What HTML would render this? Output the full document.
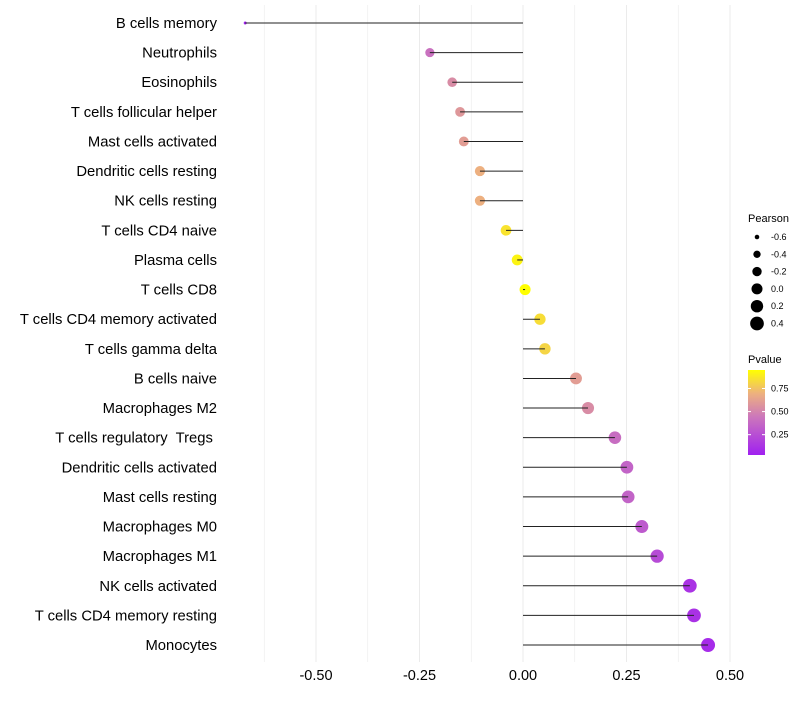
<!DOCTYPE html>
<html><head><meta charset="utf-8"><style>
body{margin:0;background:#fff;font-family:"Liberation Sans",sans-serif}
</style></head><body>
<svg id="chart" width="800" height="700" xmlns="http://www.w3.org/2000/svg">
<defs><linearGradient id="pg" x1="0" y1="1" x2="0" y2="0">
<stop offset="0" stop-color="#A020F0"/><stop offset="0.45" stop-color="#CC77BB"/><stop offset="0.72" stop-color="#EDB080"/><stop offset="1" stop-color="#FFFF00"/></linearGradient></defs>
<g id="grid"></g><g id="marks"></g><g id="stems"></g><g id="ylabels"></g><g id="xlabels"></g><g id="legend"></g>
</svg>
<script>
const categories=["B cells memory","Neutrophils","Eosinophils","T cells follicular helper","Mast cells activated","Dendritic cells resting","NK cells resting","T cells CD4 naive","Plasma cells","T cells CD8","T cells CD4 memory activated","T cells gamma delta","B cells naive","Macrophages M2","T cells regulatory\u00a0 Tregs\u00a0","Dendritic cells activated","Mast cells resting","Macrophages M0","Macrophages M1","NK cells activated","T cells CD4 memory resting","Monocytes"];
const pearson=[-0.671,-0.225,-0.171,-0.152,-0.143,-0.104,-0.104,-0.041,-0.014,0.005,0.041,0.053,0.128,0.157,0.222,0.251,0.254,0.287,0.324,0.403,0.413,0.447];
const pvalue=[0.0,0.42,0.55,0.6,0.63,0.72,0.72,0.9,0.96,1.0,0.88,0.85,0.63,0.55,0.4,0.35,0.35,0.3,0.22,0.1,0.09,0.06];
const xTicks=[-0.5,-0.25,0,0.25,0.5];
const sizeTicks=[-0.6,-0.4,-0.2,0.0,0.2,0.4];
const pTicks=[0.75,0.5,0.25];
const NS="http://www.w3.org/2000/svg";
const x=v=>523+v*414, y=i=>23+i*29.62;
const rad=v=>Math.sqrt(Math.max(1.5,30.2+41.7*v));
function col(p){const st=[[0,[160,32,240]],[0.45,[204,119,187]],[0.72,[237,176,128]],[1,[255,255,0]]];
for(let k=1;k<st.length;k++){if(p<=st[k][0]){const a=st[k-1],b=st[k],t=(p-a[0])/(b[0]-a[0]);return`rgb(${a[1].map((c,j)=>Math.round(c+(b[1][j]-c)*t)).join(',')})`;}}return'rgb(255,255,0)';}
function mk(t,a,p){const e=document.createElementNS(NS,t);for(const k in a)e.setAttribute(k,a[k]);p.appendChild(e);return e;}
const grid=document.getElementById('grid'),marks=document.getElementById('marks'),stems=document.getElementById('stems'),yl=document.getElementById('ylabels'),xl=document.getElementById('xlabels'),lg=document.getElementById('legend');
for(let k=-5;k<=4;k++){const v=k*0.125;const l=mk('line',{x1:x(v),x2:x(v),y1:5,y2:662,stroke:'#ebebeb','stroke-width':k%2==0?1:0.6},grid);

}
xTicks.forEach(v=>{const t=mk('text',{x:x(v),y:680,'text-anchor':'middle','font-size':14.5,fill:'#000'},xl);t.textContent=v.toFixed(2);

});
categories.forEach((c,i)=>{
const t=mk('text',{x:217,y:y(i)+5,'text-anchor':'end','font-size':14.8,fill:'#000'},yl);t.textContent=c;


const d=mk('circle',{cx:x(pearson[i]),cy:y(i),r:rad(pearson[i]),fill:col(pvalue[i])},marks);


const l=mk('line',{x1:x(0),x2:x(pearson[i]),y1:y(i),y2:y(i),stroke:'#222','stroke-width':1},stems);


});
let t=mk('text',{x:748,y:222,'font-size':11},lg);t.textContent='Pearson';


sizeTicks.forEach((v,i)=>{const c=mk('circle',{cx:757,cy:237+i*17.3,r:rad(v)},lg);


const s=mk('text',{x:771,y:240+i*17.3,'font-size':9},lg);s.textContent=v.toFixed(1);

});
t=mk('text',{x:748,y:363,'font-size':11},lg);t.textContent='Pvalue';


const r=mk('rect',{x:748,y:370,width:17,height:85,fill:'url(#pg)'},lg);


pTicks.forEach(v=>{const yy=455-(v-0.03)/0.92*85;
mk('line',{x1:748,x2:751,y1:yy,y2:yy,stroke:'#fff'},lg);mk('line',{x1:762,x2:765,y1:yy,y2:yy,stroke:'#fff'},lg);
const s=mk('text',{x:771,y:yy+3,'font-size':9},lg);s.textContent=v.toFixed(2);

});
</script>
</body></html>
